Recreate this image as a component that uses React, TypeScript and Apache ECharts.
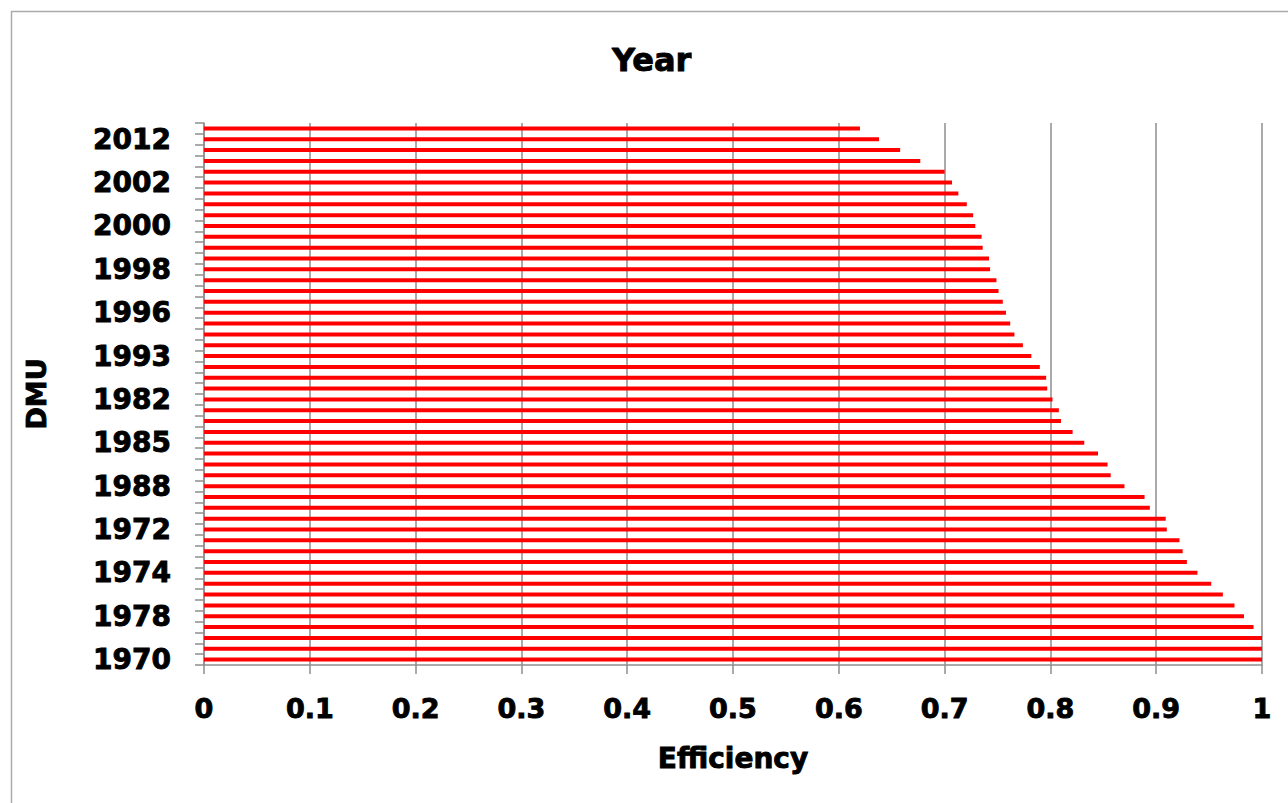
import React, { useEffect, useRef } from "react";
import * as echarts from "echarts";

// DMU names listed from top bar to bottom bar
const dmuTopToBottom: string[] = [
  "2011", "2012", "2010", "2009", "2008", "2002", "2007", "2006", "2005", "2000",
  "2004", "2003", "2001", "1998", "1999", "1997", "1995", "1996", "1994", "1992",
  "1991", "1993", "1990", "1989", "1987", "1982", "1986", "1984", "1983", "1985",
  "1981", "1980", "1979", "1988", "1977", "1976", "1975", "1972", "1973", "1971",
  "1969", "1974", "1968", "1967", "1966", "1978", "1965", "1964", "1963", "1970",
];

// Efficiency values, top bar to bottom bar
const efficiencyTopToBottom: number[] = [
  0.620, 0.638, 0.658, 0.677, 0.700, 0.707, 0.713, 0.721, 0.727, 0.729,
  0.735, 0.736, 0.742, 0.743, 0.749, 0.751, 0.755, 0.758, 0.762, 0.766,
  0.774, 0.782, 0.790, 0.796, 0.797, 0.802, 0.808, 0.810, 0.821, 0.832,
  0.845, 0.854, 0.857, 0.870, 0.889, 0.894, 0.909, 0.910, 0.922, 0.925,
  0.929, 0.939, 0.952, 0.963, 0.974, 0.983, 0.992, 1.0, 1.0, 1.0,
];

const xTicks: number[] = [0, 0.1, 0.2, 0.3, 0.4, 0.5, 0.6, 0.7, 0.8, 0.9, 1];

const FONT = "DejaVu Sans";
const GRAY = "#8e8e8e";
const heavy = { textBorderColor: "#000", textBorderWidth: 0.9 };

export default function App() {
  const ref = useRef<HTMLDivElement>(null);

  useEffect(() => {
    if (!ref.current) return;
    const chart = echarts.init(ref.current, null, { renderer: "svg" });
    const cats = [...dmuTopToBottom].reverse();
    const vals = [...efficiencyTopToBottom].reverse();
    chart.setOption({
      animation: false,
      backgroundColor: "#ffffff",
      title: {
        text: "Year",
        left: 612,
        top: 44,
        padding: 0,
        textStyle: { fontFamily: FONT, fontWeight: "bold", fontSize: 32, color: "#000", ...heavy },
      },
      graphic: [
        {
          type: "rect",
          shape: { x: 11.5, y: 11.5, width: 1300, height: 900 },
          style: { fill: "none", stroke: "#ababab", lineWidth: 1.5 },
          silent: true,
        },
      ],
      grid: { left: 204, right: 26, top: 123, bottom: 138, containLabel: false },
      xAxis: {
        type: "value",
        min: xTicks[0],
        max: xTicks[xTicks.length - 1],
        interval: 0.1,
        name: "Efficiency",
        nameLocation: "middle",
        nameGap: 79,
        nameTextStyle: { fontFamily: FONT, fontWeight: "bold", fontSize: 28, color: "#000", ...heavy },
        axisLine: { show: true, lineStyle: { color: GRAY, width: 1.5 } },
        axisTick: { show: true, length: 9, lineStyle: { color: GRAY, width: 1.5 } },
        axisLabel: {
          margin: 30,
          fontFamily: FONT,
          fontWeight: "bold",
          fontSize: 27,
          color: "#000",
          ...heavy,
          formatter: (v: number) => String(Math.round(v * 10) / 10),
        },
        splitLine: { show: true, lineStyle: { color: GRAY, width: 1.5 } },
      },
      yAxis: {
        type: "category",
        data: cats,
        name: "DMU",
        nameLocation: "middle",
        nameGap: 154,
        nameRotate: 90,
        nameTextStyle: { fontFamily: FONT, fontWeight: "bold", fontSize: 27, color: "#000", ...heavy },
        axisLine: { show: true, lineStyle: { color: GRAY, width: 1.5 } },
        axisTick: {
          show: true,
          interval: 0,
          alignWithLabel: false,
          length: 9,
          lineStyle: { color: GRAY, width: 1.5 },
        },
        axisLabel: {
          interval: 3,
          margin: 33,
          fontFamily: FONT,
          fontWeight: "bold",
          fontSize: 28,
          color: "#000",
          ...heavy,
        },
        splitLine: { show: false },
      },
      series: [
        {
          type: "bar",
          data: vals,
          barWidth: 4,
          itemStyle: { color: "#ff0000" },
        },
      ],
    });
    return () => chart.dispose();
  }, []);

  return (
    <div
      ref={ref}
      style={{ position: "absolute", left: 0, top: 0, width: 1288, height: 803 }}
    />
  );
}
